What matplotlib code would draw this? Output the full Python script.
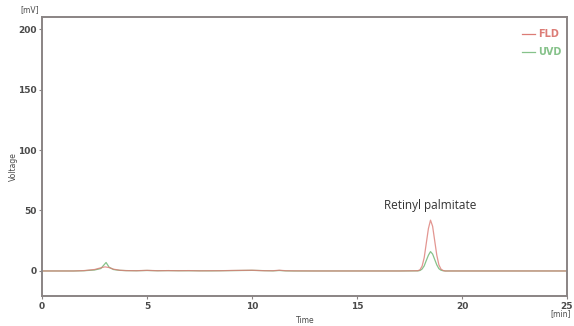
import matplotlib
matplotlib.use("Agg")
import matplotlib.pyplot as plt
from matplotlib.lines import Line2D
from matplotlib import font_manager

# Chromatogram data (time in min, signal in mV)
t_fld = [0, 1.5, 2.0, 2.5, 2.8, 3.0, 3.2, 3.4, 3.7, 4.0, 4.5, 5.0, 5.5, 6.0, 6.5, 7.0,
         7.5, 8.0, 8.5, 9.0, 9.5, 10.0, 10.3, 10.6, 11.0, 11.3, 11.6, 12.0, 13.0, 15.0,
         17.0, 17.9, 18.0, 18.1, 18.2, 18.3, 18.4, 18.5, 18.6, 18.7, 18.8, 18.9, 19.0,
         19.1, 19.2, 20.0, 22.0, 25.0]
fld = [0, 0, 0.3, 1.2, 2.6, 3.4, 2.8, 1.5, 0.6, 0.3, 0.2, 0.5, 0.2, 0.3, 0.2, 0.3,
       0.1, 0.2, 0.2, 0.4, 0.5, 0.6, 0.4, 0.2, 0.2, 0.6, 0.2, 0.1, 0, 0,
       0, 0.2, 1.0, 4.0, 11.0, 23.0, 35.0, 42.0, 37.0, 25.0, 13.0, 5.0, 1.5,
       0.4, 0.0, 0, 0, 0]
t_uvd = [0, 1.5, 2.0, 2.5, 2.8, 2.95, 3.05, 3.2, 3.4, 3.7, 4.0, 4.5, 5.0, 5.5, 6.0,
         6.5, 7.0, 8.0, 9.0, 9.5, 10.0, 10.5, 11.0, 11.3, 11.6, 12.0, 15.0, 17.0,
         17.9, 18.0, 18.1, 18.2, 18.3, 18.4, 18.5, 18.6, 18.7, 18.8, 18.9, 19.0, 19.1,
         19.2, 20.0, 25.0]
uvd = [0, 0, 0.2, 0.8, 2.0, 5.0, 7.0, 3.0, 1.2, 0.5, 0.3, 0.2, 0.4, 0.2, 0.3,
       0.2, 0.2, 0.1, 0.3, 0.4, 0.5, 0.3, 0.1, 0.4, 0.1, 0, 0, 0,
       0.1, 0.4, 1.6, 4.2, 8.7, 13.0, 16.0, 14.0, 9.5, 5.0, 1.9, 0.6, 0.2,
       0.0, 0, 0]

x_ticks = [0, 5, 10, 15, 20, 25]
y_ticks = [0, 50, 100, 150, 200]
peak_label = "Retinyl palmitate"
series_names = ["FLD", "UVD"]

fld_color = "#dc7c76"
uvd_color = "#86c28a"
axis_color = "#8a8484"
text_color = "#4a4a4a"

names = {f.name for f in font_manager.fontManager.ttflist}
narrow = "Liberation Sans Narrow" if "Liberation Sans Narrow" in names else "DejaVu Sans"

fig = plt.figure(figsize=(5.74, 3.26), dpi=100)
ax = fig.add_axes([0.0732, 0.092, 0.9146, 0.856])
ax.plot(t_uvd, uvd, color=uvd_color, lw=0.9)
ax.plot(t_fld, fld, color=fld_color, lw=0.9, alpha=0.8)
ax.set_xlim(0, 25)
ax.set_ylim(-20.7, 210)
ax.set_xticks(x_ticks)
ax.set_yticks(y_ticks)
ax.tick_params(axis="both", labelsize=6.5, colors=text_color, length=2.5, width=0.8,
               pad=1.5, color=axis_color)
for lab in ax.get_xticklabels() + ax.get_yticklabels():
    lab.set_fontfamily(narrow)
    lab.set_fontweight("bold")
for s in ax.spines.values():
    s.set_color(axis_color)
    s.set_linewidth(1.4)

ax.text(18.5, 54.5, peak_label, ha="center", va="center", fontsize=8.5,
        color="#333333", family="Open Sans")

# legend as line + text
for y, name, c in [(0.897, series_names[0], fld_color), (0.84, series_names[1], uvd_color)]:
    fig.add_artist(Line2D([0.91, 0.932], [y, y], color=c, lw=0.9, transform=fig.transFigure))
    fig.text(0.937, y, name, color=c, fontsize=7, ha="left", va="center",
             family=narrow, fontweight="bold")

kw = dict(fontsize=5.5, color=text_color, ha="center", va="center", family=narrow)
fig.text(0.052, 0.97, "[mV]", **kw)
fig.text(0.976, 0.037, "[min]", **kw)
fig.text(0.531, 0.018, "Time", **kw)
fig.text(0.024, 0.49, "Voltage", rotation=90, **kw)

fig.savefig("out.png", dpi=100, facecolor="white")
